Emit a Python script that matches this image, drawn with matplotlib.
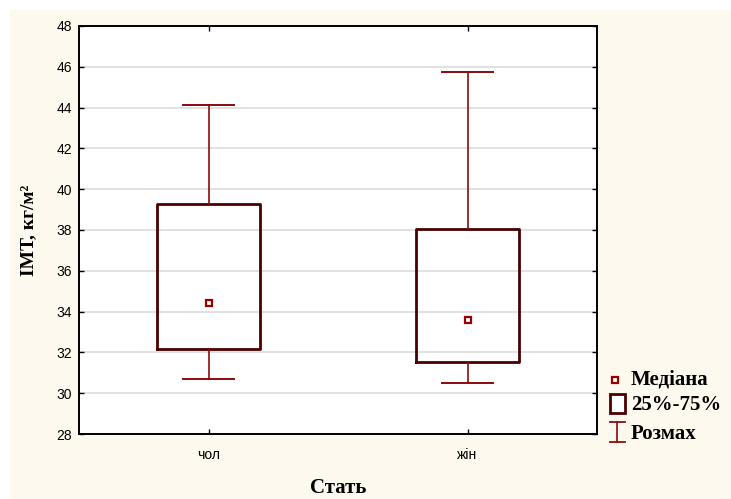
import matplotlib
matplotlib.use("Agg")
import matplotlib.pyplot as plt
from matplotlib.patches import Rectangle
from matplotlib.lines import Line2D

categories = ["чол", "жін"]
medians = [34.4, 33.6]
q1 = [32.15, 31.55]
q3 = [39.25, 38.07]
mins = [30.7, 30.5]
maxs = [44.15, 45.75]
yticks = [28, 30, 32, 34, 36, 38, 40, 42, 44, 46, 48]

W, H = 731, 499
fig = plt.figure(figsize=(W / 100, H / 100), dpi=100)
fig.patch.set_facecolor("white")
fig.add_artist(Rectangle((10 / W, 0), 1 - 10 / W, (H - 10) / H, transform=fig.transFigure,
                         facecolor="#FEF9EE", edgecolor="none", zorder=-10))

ax_l, ax_b, ax_w, ax_h = 79, 434, 518, 408
ax = fig.add_axes([ax_l / W, (H - ax_b) / H, ax_w / W, ax_h / H])
ax.set_facecolor("white")

whisk_col = "#8B0A0A"
box_col = "#4A0000"

stats = []
for i, c in enumerate(categories):
    stats.append(dict(label=c, med=medians[i], q1=q1[i], q3=q3[i],
                      whislo=mins[i], whishi=maxs[i], fliers=[]))
pos = list(range(1, len(categories) + 1))
ax.bxp(stats, positions=pos, widths=0.4, capwidths=0.2, showfliers=False,
       boxprops=dict(color=box_col, linewidth=2.0),
       whiskerprops=dict(color=whisk_col, linewidth=1.2),
       capprops=dict(color=whisk_col, linewidth=1.4),
       medianprops=dict(linewidth=0), zorder=3)
ax.plot(pos, medians, linestyle="none", marker="s", markersize=5,
        markerfacecolor="white", markeredgecolor="#9B0000", markeredgewidth=1.6, zorder=4)

ax.set_xlim(0.5, 2.5)
ax.set_ylim(28, 48)
ax.set_yticks(yticks)
ax.set_xticks(pos)
ax.set_xticklabels(categories)
ax.yaxis.grid(True, color="#DCDCDC", linewidth=1.2)
ax.set_axisbelow(True)
for s in ax.spines.values():
    s.set_linewidth(1.4)
    s.set_color("black")
ax.tick_params(direction="in", length=3.5, width=1, top=True, right=True,
               labelsize=10, pad=5)
for lab in ax.get_xticklabels() + ax.get_yticklabels():
    lab.set_family("Liberation Sans")
ax.tick_params(axis="x", pad=10)

ax.set_xlabel("Стать", family="Liberation Serif", fontweight="bold", fontsize=15)
ax.xaxis.set_label_coords(0.5, (ax_b - 488) / ax_h)
ax.xaxis.label.set_va("center")
ax.set_ylabel("ІМТ, кг/м²", family="Liberation Serif", fontweight="bold", fontsize=14)
ax.yaxis.set_label_coords((29 - ax_l) / ax_w, (ax_b - 230) / ax_h)
ax.yaxis.label.set_va("center")

# legend
tf = fig.transFigure
def fx(x): return x / W
def fy(y): return 1 - y / H
fig.add_artist(Line2D([fx(615)], [fy(380)], transform=tf, marker="s", markersize=5,
                      markerfacecolor="white", markeredgecolor="#9B0000", markeredgewidth=1.6))
fig.add_artist(Rectangle((fx(610), fy(413)), 15 / W, 19 / H, transform=tf,
                         facecolor="white", edgecolor=box_col, linewidth=2.0))
fig.add_artist(Line2D([fx(617), fx(617)], [fy(422), fy(442)], transform=tf, color=whisk_col, linewidth=1.2))
fig.add_artist(Line2D([fx(610), fx(625)], [fy(422), fy(422)], transform=tf, color=whisk_col, linewidth=1.3))
fig.add_artist(Line2D([fx(610), fx(625)], [fy(442), fy(442)], transform=tf, color=whisk_col, linewidth=1.3))
for txt, y in [("Медіана", 380), ("25%-75%", 405), ("Розмах", 434)]:
    fig.text(fx(631), fy(y), txt, family="Liberation Serif", fontweight="bold", fontsize=15,
             va="center", ha="left")

fig.savefig("out.png", dpi=100)
